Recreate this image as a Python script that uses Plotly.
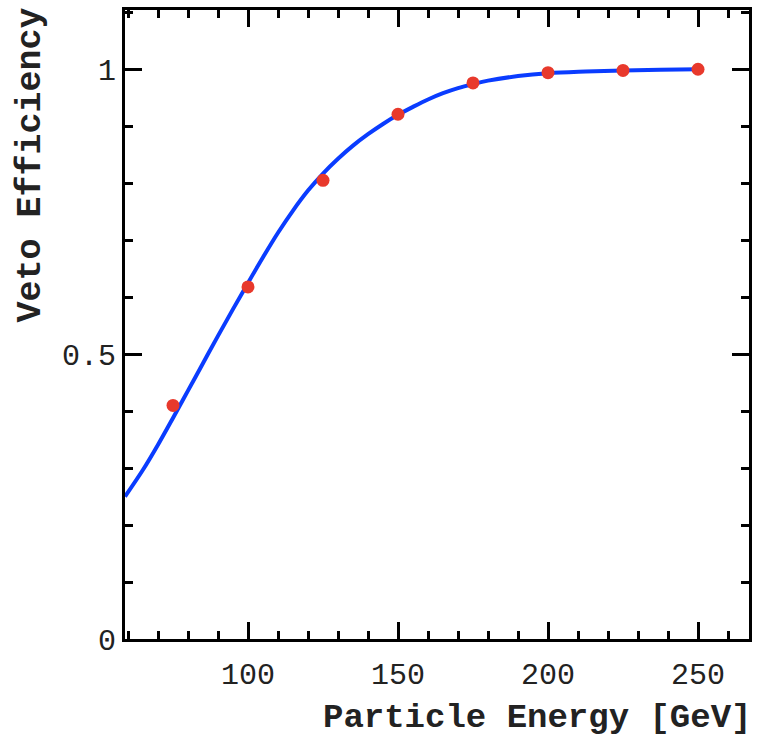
import plotly.graph_objects as go

# Measured points
energy = [75, 100, 125, 150, 175, 200, 225, 250]
efficiency = [0.41, 0.618, 0.805, 0.921, 0.976, 0.994, 0.998, 1.0]

# Fitted curve
curve_x = [59, 65, 70, 75, 80, 85, 90, 95, 100, 105, 110, 115, 120, 125, 130, 135,
           140, 145, 150, 155, 160, 165, 170, 175, 180, 190, 200, 212.5, 225, 237.5, 250]
curve_y = [0.25, 0.297, 0.341, 0.388, 0.436, 0.484, 0.532, 0.579, 0.625, 0.67, 0.713,
           0.752, 0.787, 0.817, 0.843, 0.866, 0.886, 0.904, 0.92, 0.934, 0.947, 0.958,
           0.967, 0.974, 0.98, 0.988, 0.993, 0.996, 0.998, 0.999, 1.0]

x_ticks = [100, 150, 200, 250]
y_ticks = [0, 0.5, 1]
y_ticklabels = ["0", "0.5", "1"]

fig = go.Figure()
fig.add_trace(go.Scatter(x=curve_x, y=curve_y, mode="lines",
                         line=dict(color="#0a3cff", width=4, shape="spline", smoothing=1.0),
                         hoverinfo="skip"))
fig.add_trace(go.Scatter(x=energy, y=efficiency, mode="markers",
                         marker=dict(color="#e8392c", size=13, line=dict(width=0))))

font_mono = "Liberation Mono, Courier New, monospace"
axis_common = dict(showgrid=False, zeroline=False, showline=True, linecolor="black",
                   linewidth=3, mirror="ticks", ticks="inside", tickcolor="black",
                   tickwidth=2.5, ticklen=17,
                   tickfont=dict(family=font_mono, size=30, color="#222"))

fig.update_xaxes(range=[59, 267], tickvals=x_ticks, ticklabelstandoff=6,
                 minor=dict(dtick=10, tick0=0, ticklen=8, tickwidth=2.5, ticks="inside",
                            tickcolor="black"),
                 **axis_common)
fig.update_yaxes(range=[0, 1.104], tickvals=y_ticks, ticktext=y_ticklabels,
                 ticklabelstandoff=0,
                 minor=dict(dtick=0.1, tick0=0, ticklen=8, tickwidth=2.5, ticks="inside",
                            tickcolor="black"),
                 **axis_common)

fig.add_annotation(text="<b>Particle Energy [GeV]</b>", xref="paper", yref="paper",
                   x=1, y=0, xanchor="right", yanchor="middle", xshift=4, yshift=-79,
                   showarrow=False, font=dict(family=font_mono, size=34, color="#222"))
fig.add_annotation(text="<b>Veto Efficiency</b>", xref="paper", yref="paper",
                   x=0, y=1, xanchor="center", yanchor="top", xshift=-95, yshift=4,
                   textangle=-90, showarrow=False,
                   font=dict(family=font_mono, size=35, color="#222"))

fig.update_layout(width=761, height=736, showlegend=False,
                  margin=dict(l=125, r=12, t=7, b=97),
                  plot_bgcolor="white", paper_bgcolor="white")

fig.write_html("out.html")
